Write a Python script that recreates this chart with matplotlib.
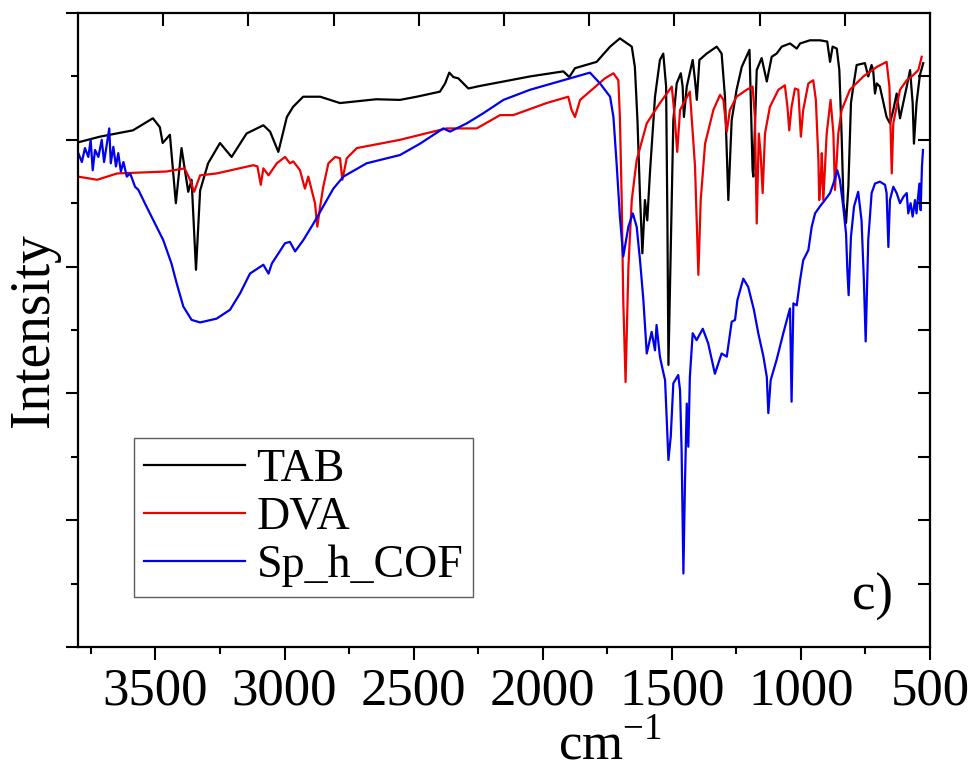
import numpy as np
import matplotlib
matplotlib.use("Agg")
import matplotlib.pyplot as plt
from matplotlib.ticker import MultipleLocator

# wavenumbers (cm-1) and intensity (a.u.)
tab_wn = [3800, 3715, 3587, 3510, 3483, 3472, 3444, 3421, 3399, 3373, 3360, 3343, 3327, 3296,
          3250, 3205, 3147, 3082, 3056, 3024, 2991, 2967, 2928, 2862, 2785, 2645, 2553, 2488,
          2398, 2378, 2362, 2346, 2327, 2288, 2243, 2152, 2049, 1920, 1897, 1875, 1791, 1739,
          1701, 1655, 1643, 1633, 1623, 1614, 1604, 1595, 1584, 1565, 1546, 1533, 1522, 1517,
          1513, 1494, 1481, 1465, 1458, 1453, 1442, 1419, 1410, 1403, 1393, 1365, 1326, 1307,
          1294, 1281, 1268, 1249, 1229, 1199, 1187, 1184, 1171, 1152, 1132, 1113, 1094, 1074,
          1042, 1016, 1003, 965, 926, 898, 887, 877, 861, 851, 842, 835, 825, 816, 806, 797,
          784, 752, 739, 726, 720, 713, 706, 694, 668, 655, 642, 629, 616, 601, 590, 577, 567,
          562, 552, 539, 526]
tab_val = [7.96, 8.05, 8.15, 8.34, 8.20, 7.95, 8.08, 7.00, 7.87, 7.18, 7.37, 5.95, 7.20, 7.63,
           7.95, 7.73, 8.10, 8.23, 8.13, 7.81, 8.36, 8.52, 8.68, 8.68, 8.58, 8.64, 8.63, 8.68,
           8.76, 8.89, 9.06, 8.99, 8.97, 8.81, 8.85, 8.92, 9.00, 9.08, 8.99, 9.13, 9.23, 9.47,
           9.60, 9.47, 9.15, 8.31, 7.10, 6.21, 7.05, 6.73, 7.52, 8.68, 9.26, 9.36, 8.84, 6.73,
           4.45, 8.31, 8.89, 9.05, 8.84, 8.36, 8.84, 9.26, 8.94, 8.63, 9.26, 9.36, 9.47, 9.36,
           8.68, 7.05, 8.31, 8.79, 9.15, 9.42, 7.52, 7.42, 9.10, 9.29, 8.92, 9.31, 9.36, 9.47,
           9.52, 9.44, 9.52, 9.57, 9.57, 9.55, 9.23, 9.47, 9.44, 9.10, 8.05, 7.00, 6.69, 7.26,
           8.58, 8.84, 9.18, 9.21, 9.00, 9.18, 9.10, 8.73, 8.89, 8.84, 8.36, 8.26, 8.47, 8.73,
           8.34, 8.63, 8.84, 9.10, 8.58, 7.94, 8.58, 9.02, 9.21]

dva_wn = [3800, 3726, 3648, 3458, 3387, 3366, 3350, 3327, 3263, 3121, 3105, 3092, 3082, 3062,
          3030, 2998, 2979, 2966, 2940, 2921, 2908, 2882, 2873, 2862, 2850, 2830, 2804, 2785,
          2776, 2759, 2720, 2553, 2424, 2372, 2256, 2165, 2114, 1985, 1901, 1888, 1875, 1855,
          1804, 1759, 1726, 1707, 1701, 1694, 1688, 1679, 1668, 1655, 1636, 1597, 1546, 1500,
          1490, 1479, 1468, 1430, 1417, 1410, 1404, 1397, 1388, 1371, 1339, 1313, 1300, 1287,
          1275, 1249, 1210, 1187, 1178, 1171, 1163, 1156, 1148, 1139, 1120, 1087, 1062, 1052,
          1045, 1036, 1023, 1010, 1000, 991, 971, 952, 942, 932, 929, 923, 919, 913, 900, 885,
          874, 868, 855, 842, 810, 758, 706, 668, 657, 652, 648, 642, 616, 590, 565, 545, 532]
dva_val = [7.42, 7.37, 7.47, 7.50, 7.55, 7.37, 7.18, 7.44, 7.47, 7.60, 7.58, 7.29, 7.55, 7.44,
           7.63, 7.73, 7.63, 7.66, 7.52, 7.23, 7.42, 7.00, 6.63, 6.95, 7.26, 7.63, 7.73, 7.71,
           7.37, 7.71, 7.87, 8.00, 8.13, 8.18, 8.18, 8.39, 8.39, 8.58, 8.68, 8.47, 8.36, 8.63,
           8.81, 8.97, 9.05, 8.94, 8.36, 7.05, 5.47, 4.18, 6.00, 7.05, 7.68, 8.26, 8.58, 8.84,
           8.42, 7.81, 8.47, 8.76, 8.00, 7.58, 6.79, 5.87, 7.05, 7.94, 8.47, 8.71, 8.63, 8.13,
           8.47, 8.68, 8.79, 8.84, 8.36, 6.68, 8.10, 7.79, 7.16, 8.10, 8.52, 8.79, 8.86, 8.52,
           8.15, 8.52, 8.81, 8.79, 8.05, 8.47, 8.89, 8.94, 8.63, 7.68, 7.05, 7.37, 7.79, 7.05,
           8.10, 8.63, 8.10, 7.21, 8.10, 8.47, 8.79, 9.00, 9.15, 9.23, 8.84, 8.10, 7.47, 8.26,
           8.79, 8.94, 9.02, 9.10, 9.31]

cof_wn = [3799, 3785, 3773, 3760, 3751, 3743, 3734, 3721, 3708, 3699, 3689, 3679, 3673, 3663,
          3653, 3644, 3634, 3624, 3611, 3598, 3579, 3566, 3535, 3470, 3438, 3418, 3392, 3360,
          3327, 3263, 3211, 3172, 3134, 3082, 3062, 3049, 2998, 2979, 2959, 2927, 2888, 2850,
          2811, 2772, 2682, 2553, 2475, 2385, 2359, 2294, 2230, 2152, 2049, 1920, 1817, 1778,
          1739, 1726, 1713, 1701, 1688, 1668, 1651, 1636, 1623, 1610, 1597, 1578, 1565, 1559,
          1546, 1535, 1526, 1520, 1513, 1504, 1494, 1475, 1468, 1462, 1455, 1449, 1442, 1436,
          1430, 1419, 1404, 1380, 1359, 1333, 1307, 1287, 1268, 1255, 1246, 1223, 1204, 1182,
          1165, 1145, 1132, 1126, 1117, 1094, 1068, 1049, 1042, 1036, 1029, 1016, 1003, 991,
          971, 958, 945, 926, 907, 887, 874, 859, 849, 836, 825, 820, 815, 806, 794, 778, 765,
          756, 749, 739, 726, 713, 694, 674, 668, 661, 655, 642, 629, 616, 603, 590, 584, 575,
          567, 558, 552, 541, 536, 531, 527]
cof_val = [7.79, 7.65, 7.87, 7.73, 8.00, 7.52, 7.84, 7.73, 8.00, 7.65, 7.92, 8.18, 7.63, 7.89,
           7.58, 7.79, 7.50, 7.65, 7.42, 7.47, 7.26, 7.21, 6.95, 6.42, 6.05, 5.74, 5.37, 5.16,
           5.12, 5.18, 5.32, 5.58, 5.89, 6.03, 5.89, 6.05, 6.37, 6.39, 6.24, 6.42, 6.68, 6.95,
           7.23, 7.42, 7.63, 7.76, 7.94, 8.18, 8.13, 8.26, 8.42, 8.63, 8.79, 8.94, 9.06, 8.89,
           8.68, 8.36, 7.58, 6.79, 6.16, 6.63, 6.84, 6.63, 6.10, 5.47, 4.63, 4.97, 4.68, 5.08,
           4.58, 4.37, 4.21, 3.63, 2.95, 3.32, 4.16, 4.29, 4.05, 3.11, 1.16, 2.58, 3.84, 3.16,
           4.26, 4.95, 4.84, 5.02, 4.79, 4.31, 4.63, 4.58, 5.13, 5.16, 5.47, 5.81, 5.68, 5.32,
           4.95, 4.58, 4.26, 3.69, 4.21, 4.53, 4.95, 5.24, 5.34, 3.87, 5.42, 5.39, 5.79, 6.10,
           6.26, 6.63, 6.84, 6.95, 7.05, 7.16, 7.31, 7.52, 7.37, 6.95, 6.52, 5.95, 5.55, 6.47,
           6.95, 7.18, 6.73, 5.79, 4.82, 6.42, 7.16, 7.31, 7.34, 7.29, 7.16, 6.31, 7.05, 7.26,
           7.16, 7.00, 7.10, 7.16, 6.84, 7.00, 6.79, 7.05, 6.84, 7.31, 6.89, 7.58, 7.84]

labels = ["TAB", "DVA", "Sp_h_COF"]
colors = ["black", "#ee0000", "#0000ee"]

plt.rcParams["font.family"] = ["Liberation Serif", "DejaVu Serif"]
plt.rcParams["mathtext.fontset"] = "custom"
plt.rcParams["mathtext.rm"] = "Liberation Serif"

fig = plt.figure(figsize=(9.75, 7.76), dpi=100)
ax = fig.add_axes([0.08, 0.1662, 0.8738, 0.817])

for wn, val, lab, col in zip([tab_wn, dva_wn, cof_wn], [tab_val, dva_val, cof_val], labels, colors):
    ax.plot(wn, val, color=col, lw=1.6, label=lab)

ax.set_xlim(3800, 500)
ax.set_ylim(0, 10)

ax.xaxis.set_major_locator(MultipleLocator(500))
ax.xaxis.set_minor_locator(MultipleLocator(250))
ax.yaxis.set_major_locator(MultipleLocator(2))
ax.yaxis.set_minor_locator(MultipleLocator(1))
ax.tick_params(which="major", direction="out", length=9, width=1.5, labelsize=38, pad=6)
ax.tick_params(which="minor", direction="out", length=5, width=1.5)
ax.tick_params(axis="y", labelleft=False)
for sp in ax.spines.values():
    sp.set_linewidth(1.6)

# top and right ticks point inwards
top = ax.twiny()
top.set_xlim(0, 1)
top.set_xticks(np.linspace(0.1, 0.9, 9))
top.tick_params(direction="in", length=9, width=1.5, labeltop=False)
right = ax.twinx()
right.set_ylim(0, 10)
right.set_yticks(np.arange(1, 10))
right.tick_params(direction="in", length=9, width=1.5, labelright=False)
for a in (top, right):
    for sp in a.spines.values():
        sp.set_visible(False)

ax.set_ylabel("Intensity", fontsize=40, labelpad=4)
ax.set_xlabel(r"cm$^{-1}$", fontsize=38)
ax.xaxis.set_label_coords(0.625, -0.115)

leg = ax.legend(loc="lower left", bbox_to_anchor=(0.066, 0.079), fontsize=33,
                frameon=True, fancybox=False, edgecolor="#333333", handlelength=2.2,
                handletextpad=0.25, labelspacing=0.12, borderpad=0.22, borderaxespad=0)
leg.get_frame().set_linewidth(1.0)

ax.text(0.933, 0.079, "c)", transform=ax.transAxes, fontsize=38, ha="center", va="center")

fig.savefig("out.png", dpi=100)
